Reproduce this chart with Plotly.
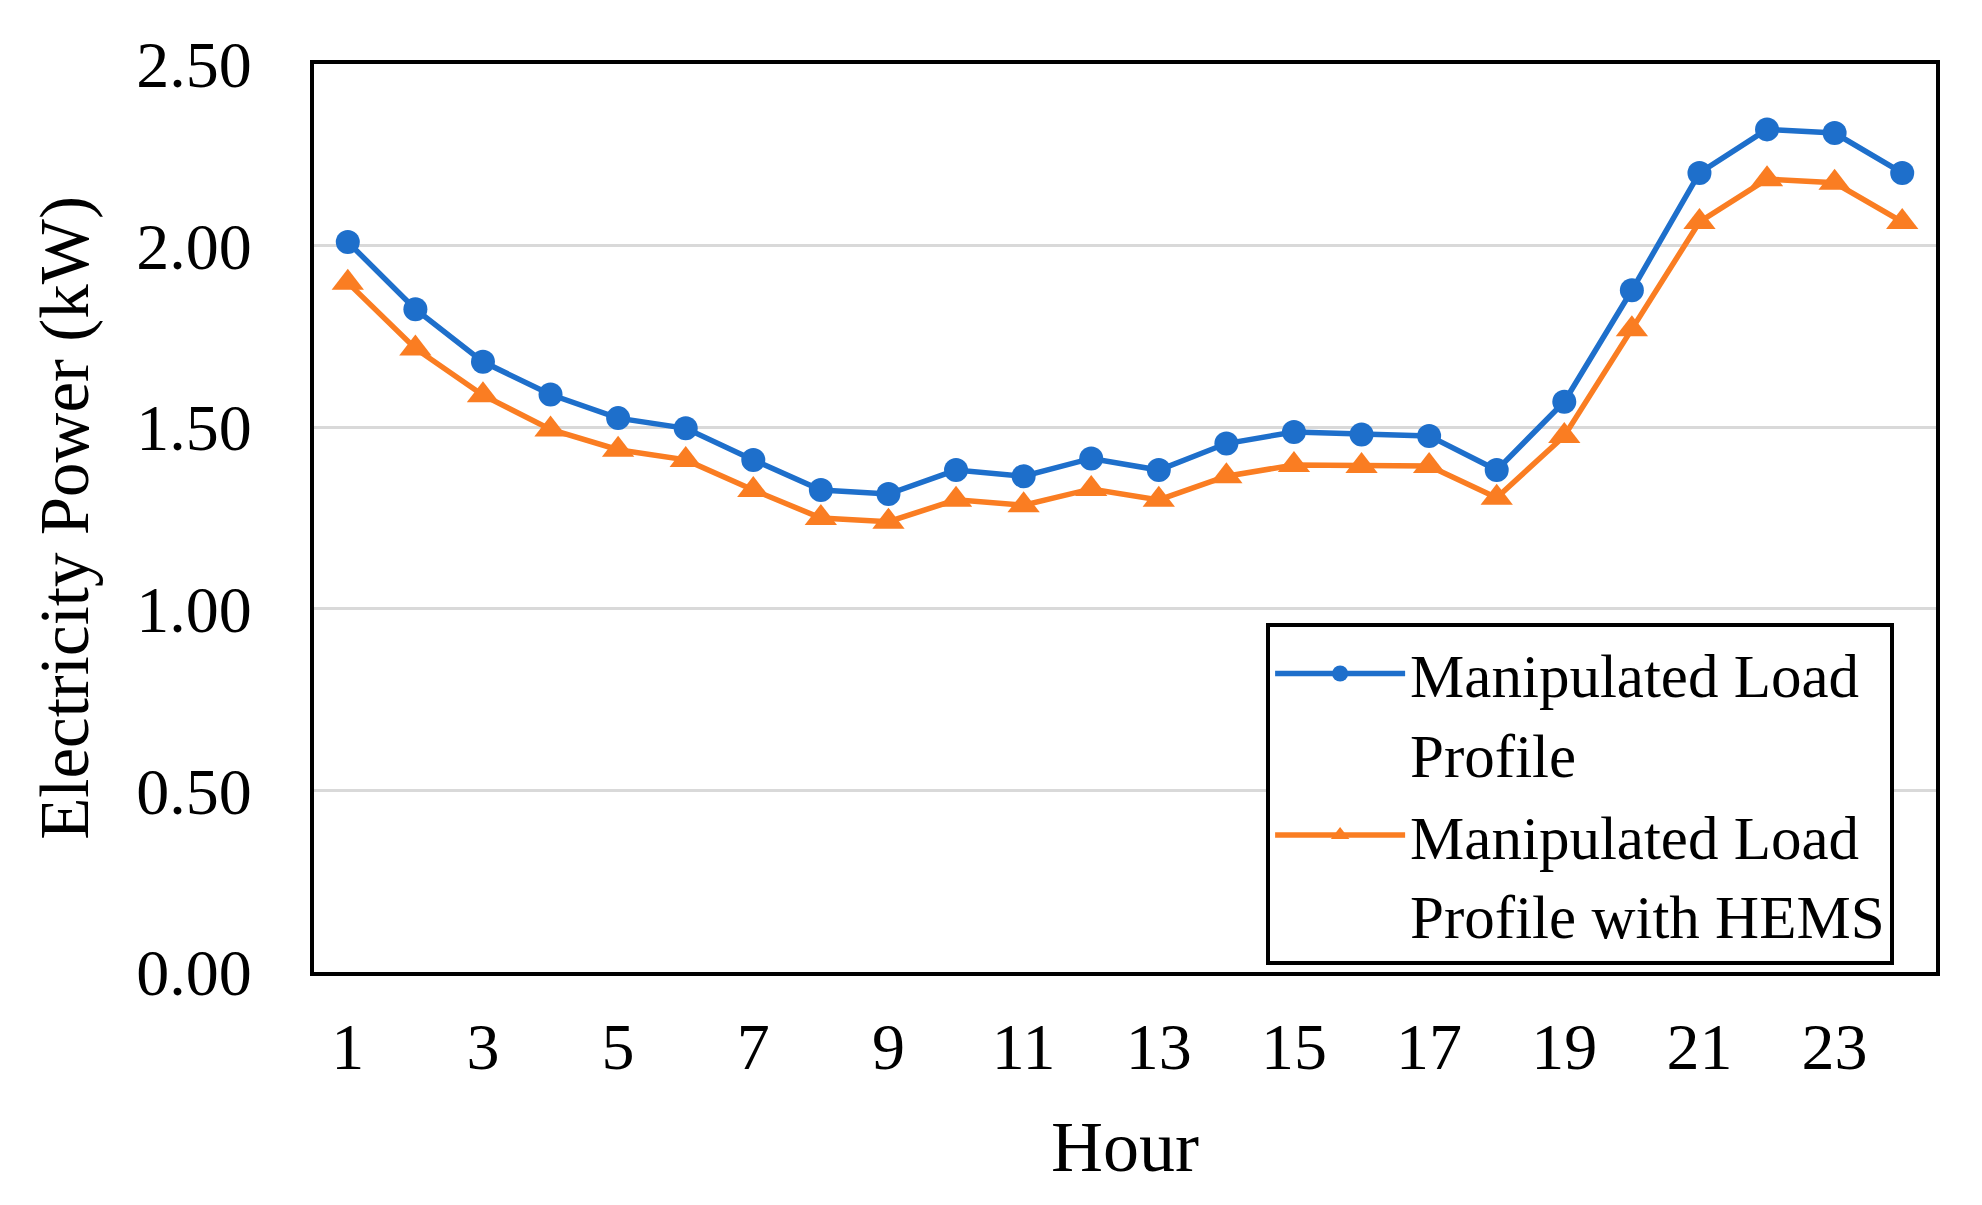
import plotly.graph_objects as go

hours = list(range(1, 25))
manipulated = [2.01, 1.825, 1.68, 1.59, 1.525, 1.497, 1.41, 1.327, 1.316, 1.382, 1.365, 1.414,
               1.382, 1.455, 1.487, 1.48, 1.476, 1.382, 1.57, 1.877, 2.20, 2.32, 2.31, 2.20]
with_hems = [1.898, 1.717, 1.588, 1.494, 1.438, 1.41, 1.327, 1.25, 1.24, 1.30, 1.285, 1.33,
             1.30, 1.365, 1.396, 1.393, 1.393, 1.306, 1.476, 1.77, 2.065, 2.183, 2.173, 2.065]
x_ticks = [1, 3, 5, 7, 9, 11, 13, 15, 17, 19, 21, 23]
y_ticks = [0.0, 0.5, 1.0, 1.5, 2.0, 2.5]

FONT = "Liberation Serif"
BLUE = "#1E6FCB"
ORANGE = "#FA7D22"

fig = go.Figure()
fig.add_trace(go.Scatter(
    x=hours, y=manipulated, mode="lines+markers",
    name="Manipulated Load<br>Profile",
    line=dict(color=BLUE, width=5.5),
    marker=dict(symbol="circle", size=24, color=BLUE),
))
fig.add_trace(go.Scatter(
    x=hours, y=with_hems, mode="lines+markers",
    name="Manipulated Load<br>Profile with HEMS",
    line=dict(color=ORANGE, width=5.5),
    marker=dict(symbol="triangle-up", size=28, color=ORANGE),
))

fig.update_layout(
    width=1982, height=1205,
    margin=dict(l=306, r=54, t=56, b=241),
    paper_bgcolor="white", plot_bgcolor="white",
    font=dict(family=FONT, size=66, color="black"),
    showlegend=True,
    legend=dict(
        x=0.587, y=0.384, xanchor="left", yanchor="top",
        bgcolor="white", bordercolor="black", borderwidth=4,
        font=dict(family=FONT, size=61, color="black"),
        valign="top", itemwidth=130,
    ),
)
fig.update_xaxes(
    range=[0.5, 24.5], tickmode="array", tickvals=x_ticks,
    ticktext=[str(v) for v in x_ticks],
    showgrid=False, zeroline=False,
    showline=True, linecolor="black", linewidth=4, mirror=True,
    ticks="", ticklabelstandoff=14,
    title=dict(text="Hour", font=dict(family=FONT, size=72), standoff=39),
)
fig.update_yaxes(
    range=[0, 2.5], tickmode="array", tickvals=y_ticks,
    ticktext=[f"{v:.2f}" for v in y_ticks],
    showgrid=True, gridcolor="#D9D9D9", gridwidth=3, zeroline=False,
    showline=True, linecolor="black", linewidth=4, mirror=True,
    ticks="", ticklabelstandoff=45,
    title=dict(text="Electricity Power (kW)", font=dict(family=FONT, size=69), standoff=26),
)

fig.write_html("out.html")
